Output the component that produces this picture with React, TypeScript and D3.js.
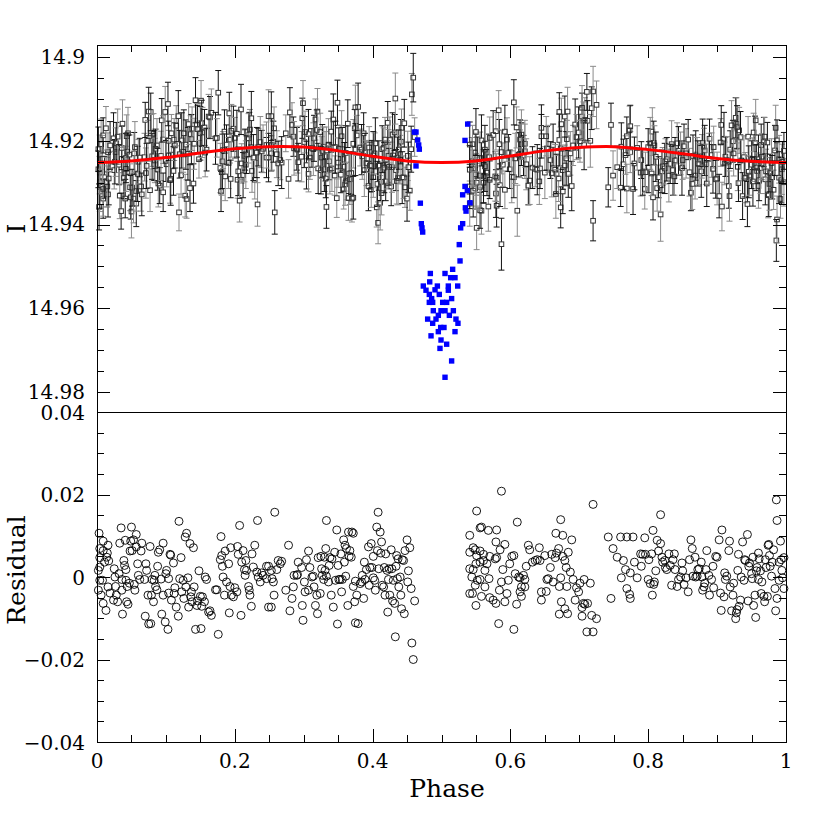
import React from 'react';
import * as d3 from 'd3';

// ---- observations outside eclipse (phase, I mag, residual, error) ----
const obsPhase = [
0.003,0.004,0.004,0.004,0.002,0.004,0.002,0.006,0.009,0.009,
0.011,0.008,0.009,0.014,0.016,0.015,0.017,0.016,0.019,0.013,
0.024,0.025,0.026,0.027,0.028,0.030,0.032,0.033,0.035,0.036,
0.036,0.037,0.039,0.040,0.041,0.042,0.042,0.043,0.044,0.045,
0.047,0.048,0.049,0.050,0.051,0.053,0.054,0.055,0.057,0.057,
0.059,0.060,0.062,0.064,0.065,0.069,0.070,0.071,0.072,0.074,
0.075,0.077,0.078,0.079,0.080,0.082,0.083,0.084,0.085,0.087,
0.088,0.089,0.091,0.093,0.094,0.096,0.096,0.099,0.100,0.101,
0.103,0.104,0.104,0.106,0.107,0.108,0.111,0.112,0.113,0.115,
0.118,0.119,0.120,0.122,0.123,0.125,0.126,0.128,0.129,0.130,
0.132,0.133,0.135,0.136,0.137,0.138,0.140,0.141,0.143,0.145,
0.146,0.148,0.150,0.151,0.152,0.153,0.156,0.157,0.159,0.162,
0.164,0.166,0.172,0.174,0.176,0.179,0.180,0.181,0.182,0.183,
0.185,0.186,0.188,0.191,0.192,0.193,0.194,0.195,0.198,0.200,
0.203,0.204,0.205,0.207,0.209,0.210,0.212,0.214,0.215,0.216,
0.217,0.220,0.221,0.222,0.224,0.225,0.227,0.229,0.232,0.233,
0.234,0.237,0.239,0.241,0.246,0.249,
0.258,0.278,0.249,0.246,0.253,0.254,0.256,0.261,0.263,0.266,
0.268,0.257,0.253,0.274,0.280,0.283,0.285,0.286,0.290,0.291,
0.292,0.297,0.298,0.299,0.301,0.302,0.304,0.307,0.307,0.309,
0.312,0.314,0.315,0.317,0.319,0.320,0.321,0.324,0.325,0.326,
0.327,0.329,0.330,0.331,0.332,0.333,0.333,0.336,0.337,0.338,
0.340,0.341,0.343,0.345,0.346,0.348,0.349,0.350,0.351,0.353,
0.354,0.355,0.356,0.358,0.359,0.360,0.361,0.362,0.364,0.365,
0.366,0.367,0.369,0.370,0.372,0.372,0.374,0.375,0.375,0.377,
0.379,0.382,0.384,0.385,0.387,0.388,0.389,0.391,0.394,0.395,
0.396,0.398,0.399,0.401,0.401,0.403,0.404,0.406,0.407,0.408,
0.409,0.411,0.412,0.413,0.414,0.416,0.417,0.418,0.419,0.421,
0.422,0.423,0.424,0.425,0.427,0.428,0.429,0.430,0.432,0.433,
0.434,0.435,0.436,0.437,0.438,0.440,0.441,0.442,0.443,0.445,
0.446,0.447,0.450,0.451,0.452,0.454,0.456,0.457,0.459,0.461,
0.587,0.551,0.720,0.558,0.556,0.568,0.580,0.610,0.673,0.541,
0.579,0.592,0.546,0.549,0.541,0.556,0.561,0.551,0.570,0.578,
0.585,0.580,0.561,0.556,0.566,0.550,0.541,0.546,0.563,0.589,
0.599,0.602,0.605,0.544,0.552,0.556,0.569,0.549,0.563,0.587,
0.597,0.607,0.612,0.614,0.619,0.621,0.616,0.621,0.614,0.616,
0.541,0.545,0.558,0.570,0.575,0.579,0.584,0.595,0.592,0.609,
0.550,0.583,0.605,0.623,0.626,0.628,0.632,0.636,0.639,0.642,
0.643,0.650,0.653,0.655,0.658,0.660,0.662,0.665,0.667,0.670,
0.671,0.673,0.676,0.666,0.676,0.679,0.681,0.682,0.684,0.687,
0.689,0.691,0.694,0.696,0.699,0.701,0.704,0.706,0.707,0.708,
0.712,0.716,0.718,0.725,0.711,0.720,0.645,0.652,0.645,0.674,
0.679,0.683,0.671,0.704,0.742,0.749,0.746,
0.818,0.986,0.987,0.760,0.769,0.778,0.795,0.807,0.755,0.764,
0.767,0.761,0.774,0.780,0.784,0.790,0.789,0.792,0.796,0.801,
0.805,0.769,0.773,0.774,0.806,0.800,0.803,0.808,0.809,0.811,
0.813,0.815,0.818,0.820,0.821,0.824,0.825,0.827,0.830,0.832,
0.834,0.836,0.838,0.839,0.842,0.844,0.847,0.849,0.850,0.852,
0.855,0.858,0.860,0.862,0.864,0.865,0.868,0.869,0.871,0.872,
0.874,0.877,0.878,0.879,0.881,0.882,0.884,0.885,0.888,0.889,
0.892,0.894,0.895,0.898,0.900,0.903,0.905,0.906,0.907,0.910,
0.911,0.912,0.914,0.917,0.918,0.919,0.921,0.923,0.924,0.927,
0.928,0.929,0.930,0.931,0.932,0.934,0.935,0.937,0.939,0.940,
0.941,0.944,0.945,0.946,0.947,0.950,0.951,0.952,0.953,0.955,
0.956,0.957,0.958,0.960,0.960,0.961,0.963,0.964,0.965,0.968,
0.969,0.970,0.971,0.973,0.974,0.975,0.976,0.977,0.979,0.980,
0.982,0.984,0.985,0.987,0.990,0.990,0.992,0.993,0.994,0.995,
0.997,0.997
];

const obsMag = [
14.9358,14.9321,14.9299,14.9276,14.9268,14.9244,14.9220,14.9208,14.9338,14.9315,
14.9287,14.9243,14.9187,14.9299,14.9328,14.9309,14.9290,14.9227,14.9211,14.9170,
14.9194,14.9270,14.9250,14.9227,14.9206,14.9190,14.9257,14.9331,14.9368,14.9243,
14.9217,14.9159,14.9289,14.9277,14.9338,14.9267,14.9241,14.9189,14.9226,14.9182,
14.9233,14.9311,14.9335,14.9369,14.9312,14.9338,14.9230,14.9215,14.9350,14.9320,
14.9279,14.9250,14.9240,14.9309,14.9328,14.9239,14.9150,14.9277,14.9260,14.9200,
14.9130,14.9318,14.9131,14.9199,14.9237,14.9183,14.9235,14.9247,14.9219,14.9211,
14.9268,14.9302,14.9307,14.9236,14.9151,14.9197,14.9323,14.9131,14.9248,14.9256,
14.9112,14.9235,14.9200,14.9294,14.9291,14.9182,14.9272,14.9197,14.9211,14.9164,
14.9141,14.9371,14.9232,14.9282,14.9199,14.9226,14.9182,14.9331,14.9209,14.9339,
14.9231,14.9160,14.9313,14.9184,14.9196,14.9171,14.9302,14.9207,14.9103,14.9161,
14.9172,14.9244,14.9182,14.9104,14.9158,14.9180,14.9168,14.9228,14.9221,14.9142,
14.9144,14.9133,14.9194,14.9193,14.9085,14.9265,14.9321,14.9275,14.9249,14.9222,
14.9178,14.9285,14.9209,14.9253,14.9134,14.9197,14.9291,14.9176,14.9171,14.9193,
14.9183,14.9293,14.9273,14.9343,14.9125,14.9254,14.9282,14.9236,14.9221,14.9257,
14.9233,14.9194,14.9185,14.9173,14.9146,14.9272,14.9240,14.9293,14.9228,14.9352,
14.9215,14.9203,14.9225,14.9219,14.9240,14.9141,
14.9371,14.9291,14.9240,14.9210,14.9230,14.9210,14.9202,14.9232,14.9254,14.9246,
14.9252,14.9170,14.9141,14.9182,14.9132,14.9162,14.9190,14.9218,14.9219,14.9221,
14.9251,14.9238,14.9146,14.9110,14.9203,14.9179,14.9258,14.9279,14.9184,14.9240,
14.9217,14.9220,14.9194,14.9149,14.9174,14.9130,14.9266,14.9179,14.9270,14.9240,
14.9224,14.9214,14.9268,14.9237,14.9290,14.9223,14.9358,14.9209,14.9249,14.9269,
14.9178,14.9266,14.9149,14.9283,14.9215,14.9337,14.9109,14.9252,14.9218,14.9219,
14.9281,14.9189,14.9220,14.9316,14.9262,14.9304,14.9229,14.9296,14.9159,14.9337,
14.9278,14.9292,14.9277,14.9338,14.9336,14.9207,14.9170,14.9120,14.9221,14.9187,
14.9119,14.9216,14.9221,14.9237,14.9182,14.9270,14.9228,14.9253,14.9308,14.9216,
14.9259,14.9317,14.9260,14.9287,14.9235,14.9230,14.9206,14.9359,14.9303,14.9396,
14.9259,14.9348,14.9298,14.9325,14.9220,14.9217,14.9264,14.9197,14.9297,14.9257,
14.9157,14.9236,14.9262,14.9198,14.9309,14.9263,14.9185,14.9235,14.9180,14.9099,
14.9270,14.9296,14.9241,14.9289,14.9221,14.9245,14.9202,14.9169,14.9288,14.9287,
14.9158,14.9311,14.9338,14.9236,14.9263,14.9319,14.9220,14.9089,14.9049,14.9191,
14.9447,14.9408,14.9391,14.9367,14.9366,14.9357,14.9355,14.9367,14.9359,14.9350,
14.9326,14.9317,14.9319,14.9314,14.9309,14.9310,14.9300,14.9300,14.9293,14.9285,
14.9306,14.9288,14.9285,14.9283,14.9276,14.9280,14.9269,14.9266,14.9261,14.9257,
14.9268,14.9286,14.9287,14.9249,14.9240,14.9241,14.9239,14.9228,14.9221,14.9227,
14.9229,14.9242,14.9233,14.9231,14.9235,14.9225,14.9208,14.9207,14.9197,14.9185,
14.9209,14.9208,14.9199,14.9193,14.9186,14.9177,14.9208,14.9197,14.9178,14.9168,
14.9179,14.9127,14.9108,14.9256,14.9307,14.9295,14.9264,14.9267,14.9269,14.9297,
14.9266,14.9276,14.9218,14.9219,14.9246,14.9277,14.9210,14.9269,14.9279,14.9290,
14.9198,14.9218,14.9270,14.9327,14.9321,14.9259,14.9242,14.9196,14.9279,14.9230,
14.9308,14.9211,14.9161,14.9191,14.9180,14.9201,14.9142,14.9152,14.9210,14.9150,
14.9152,14.9200,14.9122,14.9114,14.9083,14.9082,14.9189,14.9189,14.9169,14.9160,
14.9142,14.9130,14.9131,14.9121,14.9311,14.9283,14.9162,
14.9376,14.9438,14.9388,14.9312,14.9314,14.9315,14.9315,14.9335,14.9263,14.9256,
14.9234,14.9214,14.9227,14.9254,14.9217,14.9246,14.9276,14.9275,14.9275,14.9263,
14.9278,14.9189,14.9175,14.9165,14.9178,14.9215,14.9206,14.9205,14.9211,14.9238,
14.9313,14.9287,14.9306,14.9273,14.9261,14.9266,14.9249,14.9244,14.9283,14.9255,
14.9208,14.9270,14.9285,14.9247,14.9206,14.9224,14.9230,14.9265,14.9246,14.9213,
14.9230,14.9197,14.9275,14.9324,14.9303,14.9236,14.9283,14.9235,14.9238,14.9254,
14.9256,14.9273,14.9237,14.9205,14.9214,14.9223,14.9256,14.9302,14.9243,14.9195,
14.9234,14.9267,14.9215,14.9292,14.9290,14.9332,14.9204,14.9162,14.9357,14.9195,
14.9254,14.9238,14.9246,14.9308,14.9332,14.9221,14.9163,14.9201,14.9230,14.9145,
14.9159,14.9167,14.9262,14.9301,14.9175,14.9191,14.9247,14.9332,14.9239,14.9289,
14.9288,14.9351,14.9190,14.9274,14.9283,14.9257,14.9245,14.9297,14.9180,14.9205,
14.9151,14.9264,14.9272,14.9244,14.9308,14.9294,14.9265,14.9210,14.9238,14.9203,
14.9190,14.9292,14.9273,14.9204,14.9328,14.9330,14.9303,14.9277,14.9253,14.9287,
14.9317,14.9223,14.9169,14.9199,14.9244,14.9288,14.9339,14.9294,14.9268,14.9250,
14.9299,14.9224
];

const obsResid = [
0.0106,0.0069,0.0047,0.0024,0.0016,-0.0008,-0.0032,-0.0044,0.0087,0.0064,
0.0036,-0.0008,-0.0064,0.0048,0.0077,0.0058,0.0039,-0.0024,-0.0039,-0.0081,
-0.0056,0.0020,0.0000,-0.0023,-0.0044,-0.0060,0.0008,0.0082,0.0119,-0.0006,
-0.0032,-0.0090,0.0040,0.0028,0.0089,0.0018,-0.0008,-0.0060,-0.0023,-0.0066,
-0.0015,0.0063,0.0087,0.0121,0.0064,0.0090,-0.0018,-0.0032,0.0103,0.0073,
0.0032,0.0004,-0.0006,0.0063,0.0082,-0.0006,-0.0095,0.0032,0.0016,-0.0044,
-0.0114,0.0074,-0.0113,-0.0044,-0.0006,-0.0060,-0.0008,0.0004,-0.0023,-0.0031,
0.0026,0.0060,0.0066,-0.0005,-0.0090,-0.0044,0.0082,-0.0109,0.0008,0.0016,
-0.0127,-0.0004,-0.0039,0.0055,0.0053,-0.0056,0.0034,-0.0040,-0.0026,-0.0073,
-0.0095,0.0135,-0.0004,0.0047,-0.0036,-0.0008,-0.0052,0.0097,-0.0024,0.0106,
-0.0002,-0.0073,0.0081,-0.0048,-0.0036,-0.0060,0.0071,-0.0024,-0.0127,-0.0069,
-0.0058,0.0015,-0.0047,-0.0125,-0.0071,-0.0048,-0.0060,0.0000,-0.0006,-0.0085,
-0.0082,-0.0093,-0.0031,-0.0031,-0.0139,0.0042,0.0098,0.0052,0.0026,0.0000,
-0.0044,0.0063,-0.0012,0.0032,-0.0087,-0.0023,0.0071,-0.0044,-0.0048,-0.0026,
-0.0036,0.0074,0.0055,0.0125,-0.0093,0.0036,0.0064,0.0018,0.0004,0.0040,
0.0016,-0.0023,-0.0032,-0.0044,-0.0071,0.0056,0.0024,0.0077,0.0012,0.0137,
0.0000,-0.0012,0.0010,0.0004,0.0026,-0.0073,
0.0157,0.0077,0.0026,-0.0004,0.0016,-0.0004,-0.0012,0.0018,0.0040,0.0032,
0.0038,-0.0044,-0.0073,-0.0032,-0.0082,-0.0052,-0.0024,0.0004,0.0004,0.0006,
0.0036,0.0023,-0.0069,-0.0105,-0.0012,-0.0036,0.0042,0.0063,-0.0032,0.0023,
0.0000,0.0002,-0.0024,-0.0069,-0.0044,-0.0089,0.0047,-0.0040,0.0050,0.0020,
0.0004,-0.0006,0.0048,0.0016,0.0069,0.0002,0.0137,-0.0012,0.0028,0.0047,
-0.0044,0.0044,-0.0073,0.0060,-0.0008,0.0114,-0.0114,0.0028,-0.0006,-0.0006,
0.0056,-0.0036,-0.0006,0.0090,0.0036,0.0077,0.0002,0.0069,-0.0069,0.0109,
0.0050,0.0064,0.0048,0.0109,0.0106,-0.0023,-0.0060,-0.0111,-0.0010,-0.0044,
-0.0113,-0.0016,-0.0012,0.0004,-0.0052,0.0036,-0.0006,0.0018,0.0073,-0.0020,
0.0023,0.0081,0.0023,0.0050,-0.0002,-0.0008,-0.0032,0.0121,0.0064,0.0157,
0.0020,0.0109,0.0058,0.0085,-0.0020,-0.0024,0.0023,-0.0044,0.0056,0.0016,
-0.0085,-0.0006,0.0020,-0.0044,0.0066,0.0020,-0.0058,-0.0008,-0.0064,-0.0145,
0.0026,0.0052,-0.0004,0.0044,-0.0024,0.0000,-0.0044,-0.0077,0.0042,0.0040,
-0.0089,0.0064,0.0090,-0.0012,0.0015,0.0071,-0.0028,-0.0160,-0.0200,-0.0058,
0.0208,0.0160,0.0176,0.0121,0.0119,0.0113,0.0114,0.0133,0.0139,0.0101,
0.0085,0.0079,0.0071,0.0066,0.0060,0.0063,0.0055,0.0052,0.0050,0.0044,
0.0066,0.0047,0.0040,0.0036,0.0032,0.0032,0.0020,0.0018,0.0016,0.0018,
0.0032,0.0050,0.0052,0.0000,-0.0008,-0.0006,-0.0004,-0.0020,-0.0024,-0.0012,
-0.0008,0.0008,0.0000,-0.0002,0.0004,-0.0006,-0.0024,-0.0024,-0.0036,-0.0047,
-0.0040,-0.0040,-0.0047,-0.0050,-0.0056,-0.0064,-0.0032,-0.0040,-0.0060,-0.0066,
-0.0069,-0.0113,-0.0127,0.0026,0.0077,0.0066,0.0036,0.0040,0.0042,0.0071,
0.0040,0.0052,-0.0006,-0.0004,0.0023,0.0055,-0.0012,0.0047,0.0058,0.0069,
-0.0023,-0.0002,0.0050,0.0106,0.0101,0.0040,0.0023,-0.0023,0.0060,0.0012,
0.0090,-0.0006,-0.0056,-0.0026,-0.0036,-0.0015,-0.0074,-0.0064,-0.0006,-0.0066,
-0.0064,-0.0015,-0.0093,-0.0101,-0.0133,-0.0133,-0.0036,-0.0035,-0.0056,-0.0060,
-0.0077,-0.0089,-0.0090,-0.0095,0.0097,0.0069,-0.0052,
0.0151,0.0187,0.0137,0.0097,0.0097,0.0097,0.0095,0.0113,0.0048,0.0040,
0.0018,-0.0002,0.0010,0.0036,-0.0002,0.0026,0.0056,0.0055,0.0055,0.0042,
0.0056,-0.0028,-0.0042,-0.0052,-0.0044,-0.0006,-0.0016,-0.0018,-0.0012,0.0015,
0.0089,0.0063,0.0081,0.0048,0.0036,0.0040,0.0023,0.0018,0.0056,0.0028,
-0.0020,0.0042,0.0056,0.0018,-0.0023,-0.0006,0.0000,0.0034,0.0015,-0.0018,
-0.0002,-0.0036,0.0042,0.0090,0.0069,0.0002,0.0048,0.0000,0.0002,0.0018,
0.0020,0.0036,0.0000,-0.0032,-0.0024,-0.0015,0.0018,0.0064,0.0004,-0.0044,
-0.0006,0.0026,-0.0026,0.0050,0.0048,0.0090,-0.0039,-0.0081,0.0114,-0.0048,
0.0010,-0.0006,0.0002,0.0064,0.0087,-0.0024,-0.0082,-0.0044,-0.0015,-0.0101,
-0.0087,-0.0079,0.0016,0.0055,-0.0071,-0.0056,0.0000,0.0085,-0.0008,0.0042,
0.0040,0.0103,-0.0058,0.0026,0.0034,0.0008,-0.0004,0.0048,-0.0069,-0.0044,
-0.0098,0.0015,0.0023,-0.0006,0.0058,0.0044,0.0015,-0.0040,-0.0012,-0.0047,
-0.0060,0.0042,0.0023,-0.0047,0.0077,0.0079,0.0052,0.0026,0.0002,0.0036,
0.0066,-0.0028,-0.0082,-0.0052,-0.0008,0.0036,0.0087,0.0042,0.0016,-0.0002,
0.0047,-0.0028
];

const obsErr = [
0.0055,0.0048,0.0062,0.0051,0.0044,0.0058,0.0053,0.0060,0.0047,0.0065,0.0050,0.0056,0.0042,0.0059,0.0054,0.0049,0.0063,0.0046,0.0057,0.0052,
0.0061,0.0045,0.0053,0.0058,0.0050,0.0066,0.0048,0.0055,0.0043,0.0060,0.0052,0.0057,0.0049,0.0064,0.0046,0.0054,0.0059,0.0051,0.0045,0.0062,
0.0047,0.0056,0.0052,0.0063,0.0044,0.0058,0.0050,0.0061,0.0055,0.0048,0.0066,0.0053,0.0046,0.0059,0.0051,0.0057,0.0042,0.0060,0.0054,0.0049,
0.0058,0.0051,0.0045,0.0062,0.0055,0.0048,0.0060,0.0053,0.0047,0.0064,0.0050,0.0056,0.0043,0.0059,0.0052,0.0057,0.0046,0.0061,0.0049,0.0054,
0.0052,0.0060,0.0047,0.0055,0.0063,0.0045,0.0058,0.0050,0.0054,0.0048,0.0061,0.0044,0.0057,0.0053,0.0066,0.0049,0.0056,0.0051,0.0059,0.0046,
0.0063,0.0049,0.0056,0.0044,0.0059,0.0052,0.0047,0.0061,0.0054,0.0050,0.0057,0.0045,0.0064,0.0048,0.0055,0.0060,0.0043,0.0058,0.0051,0.0053,
0.0050,0.0057,0.0062,0.0046,0.0053,0.0059,0.0048,0.0055,0.0065,0.0044,0.0052,0.0058,0.0047,0.0061,0.0050,0.0056,0.0045,0.0063,0.0054,0.0049,
0.0056,0.0044,0.0058,0.0051,0.0060,0.0047,0.0054,0.0062,0.0049,0.0057,0.0045,0.0059,0.0053,0.0048,0.0064,0.0051,0.0055,0.0046,0.0060,0.0052,
0.0045,0.0061,0.0050,0.0057,0.0048,0.0063,0.0052,0.0046,0.0058,0.0055,0.0042,0.0060,0.0049,0.0056,0.0053,0.0047,0.0062,0.0051,0.0058,0.0044,
0.0059,0.0053,0.0047,0.0064,0.0051,0.0056,0.0045,0.0060,0.0048,0.0054,0.0061,0.0050,0.0057,0.0043,0.0059,0.0052,0.0046,0.0063,0.0055,0.0049,
0.0048,0.0055,0.0060,0.0045,0.0057,0.0050,0.0063,0.0047,0.0053,0.0059,0.0046,0.0056,0.0051,0.0062,0.0044,0.0058,0.0049,0.0055,0.0061,0.0047,
0.0062,0.0046,0.0054,0.0059,0.0049,0.0056,0.0043,0.0061,0.0052,0.0047,0.0058,0.0050,0.0065,0.0045,0.0057,0.0053,0.0048,0.0060,0.0051,0.0056,
0.0051,0.0058,0.0045,0.0053,0.0062,0.0048,0.0057,0.0044,0.0060,0.0055,0.0049,0.0063,0.0046,0.0054,0.0059,0.0050,0.0056,0.0042,0.0061,0.0048,
0.0057,0.0049,0.0061,0.0047,0.0054,0.0050,0.0059,0.0065,0.0045,0.0052,0.0056,0.0048,0.0060,0.0053,0.0046,0.0058,0.0051,0.0063,0.0044,0.0055,
0.0046,0.0060,0.0052,0.0057,0.0043,0.0061,0.0049,0.0055,0.0050,0.0064,0.0047,0.0058,0.0053,0.0045,0.0062,0.0051,0.0057,0.0048,0.0054,0.0059,
0.0060,0.0047,0.0055,0.0050,0.0058,0.0046,0.0062,0.0052,0.0048,0.0056,0.0043,0.0059,0.0051,0.0061,0.0049,0.0054,0.0057,0.0045,0.0063,0.0050,
0.0053,0.0056,0.0048,0.0061,0.0045,0.0059,0.0051,0.0057,0.0064,0.0047,0.0055,0.0050,0.0058,0.0044,0.0060,0.0052,0.0046,0.0062,0.0049,0.0057,
0.0049,0.0062,0.0055,0.0046,0.0058,0.0052,0.0044,0.0060,0.0053,0.0057,0.0048,0.0065,0.0051,0.0056,0.0047,0.0059,0.0054,0.0045,0.0061,0.0050,
0.0058,0.0045,0.0059,0.0052,0.0063,0.0049,0.0056,0.0047,0.0054,0.0061,0.0046,0.0057,0.0050,0.0043,0.0060,0.0055,0.0048,0.0062,0.0052,0.0056,
0.0044,0.0057,0.0050,0.0060,0.0047,0.0055,0.0062,0.0051,0.0046,0.0058,0.0053,0.0049,0.0064,0.0045,0.0056,0.0052,0.0059,0.0048,0.0061,0.0054,
0.0061,0.0050,0.0056,0.0045,0.0059,0.0053,0.0048,0.0063,0.0051,0.0057,0.0044,0.0060,0.0052,0.0047,0.0055,0.0062,0.0049,0.0058,0.0046,0.0053,
0.0047,0.0059,0.0052,0.0064,0.0050,0.0056,0.0045,0.0058,0.0061,0.0048,0.0054,0.0051,0.0060,0.0046,0.0057,0.0049,0.0063,0.0053,0.0044,0.0056,
0.0055,0.0048,0.0061,0.0053,0.0046,0.0058,0.0050,0.0057,0.0044,0.0062,0.0052,0.0047,0.0059,0.0055,0.0049,0.0064,0.0051,0.0045,0.0060,0.0054,
0.0052,0.0063,0.0047,0.0056,0.0060,0.0045,0.0055,0.0049,0.0058,0.0051,0.0065,0.0046,0.0053,0.0059,0.0048,0.0057,0.0043,0.0061,0.0050,0.0056,
0.0059,0.0046,0.0054,0.0049,0.0062,0.0052,0.0057,0.0044,0.0060,0.0048,0.0055,0.0061,0.0047,0.0053,0.0058,0.0050,0.0045,0.0063,0.0052,0.0057,
0.0046,0.0058,0.0063,0.0051,0.0047,0.0056,0.0053,0.0060,0.0045,0.0059,0.0050,0.0054,0.0048,0.0062,0.0051,0.0057,0.0044,0.0055,0.0061,0.0049,
0.0056,0.0051,0.0045,0.0060,0.0054,0.0048,0.0062,0.0047,0.0057,0.0052,0.0059,0.0046,0.0064,0.0050,0.0055,0.0043,0.0058,0.0053,0.0049,0.0061,
0.0050,0.0055,0.0059,0.0046,0.0061,0.0053,0.0048,0.0056,0.0051,0.0063,0.0045,0.0058,0.0052,0.0047,0.0060,0.0054,0.0049,0.0057,0.0062,0.0046,
0.0054,0.0060,0.0048,0.0057,0.0044
];

// ---- eclipse points (blue) ----
const eclPhase = [
0.463,0.4606,0.4654,0.4669,0.4678,0.463,0.4693,0.4707,0.4717,0.4727,
0.538,0.5341,0.5341,0.5375,0.5307,0.5414,0.5346,0.5356,0.5307,0.5278,0.5258,0.5269,0.5162,0.5133,0.5196,0.5235,
0.4838,0.5051,0.4829,0.4736,0.4775,0.4940,0.4906,0.5099,0.5099,0.4823,0.4968,0.4857,0.5147,0.5075,0.4823,0.4872,0.5017,0.4881,0.4993,0.5172,0.5051,0.4954,0.5114,0.4799,0.4920,0.5210,0.4872,0.5239,0.4988,0.5036,0.4954,0.5196,0.4848,0.4993,0.5075,0.4978,0.5147,0.5051
];
const eclMag = [
14.9179,14.9179,14.9198,14.9210,14.9220,14.9260,14.9349,14.9398,14.9408,14.9418,
14.9160,14.9199,14.9309,14.9319,14.9329,14.9348,14.9360,14.9368,14.9398,14.9408,14.9448,14.9487,14.9507,14.9527,14.9527,14.9547,
14.9517,14.9517,14.9537,14.9547,14.9557,14.9547,14.9556,14.9547,14.9557,14.9567,14.9567,14.9577,14.9577,14.9586,14.9586,14.9586,14.9586,14.9606,14.9606,14.9606,14.9606,14.9617,14.9617,14.9626,14.9626,14.9626,14.9636,14.9636,14.9646,14.9646,14.9656,14.9656,14.9666,14.9676,14.9686,14.9696,14.9726,14.9765
];

// ---- model curve ----
const modelPhase = [0,0.05,0.1,0.15,0.2,0.25,0.3,0.35,0.4,0.45,0.5,0.55,0.6,0.65,0.7,0.75,0.8,0.85,0.9,0.95,1];
const modelMag = [14.9252,14.9248,14.9240,14.9229,14.9219,14.9214,14.9215,14.9224,14.9237,14.9248,14.9252,14.9248,14.9236,14.9224,14.9216,14.9214,14.9221,14.9231,14.9242,14.9249,14.9252];

// ---- ticks ----
const xMajorTicks = [0, 0.2, 0.4, 0.6, 0.8, 1];
const xTickLabels = ['0', '0.2', '0.4', '0.6', '0.8', '1'];
const magMajorTicks = [14.9, 14.92, 14.94, 14.96, 14.98];
const magTickLabels = ['14.9', '14.92', '14.94', '14.96', '14.98'];
const resMajorTicks = [0.04, 0.02, 0, -0.02, -0.04];
const resTickLabels = ['0.04', '0.02', '0', '\u22120.02', '\u22120.04'];

const L = 97, R = 786, T = 45, MID = 412, B = 742;
const MAJ = 13, MIN = 7;
const tickFont = "'DejaVu Serif', serif";

export default function App() {
  const x = d3.scaleLinear().domain([0, 1]).range([L, R]);
  const yMag = d3.scaleLinear().domain([14.8971, 14.9848]).range([T, MID]);
  const yRes = d3.scaleLinear().domain([-0.04, 0.04]).range([B, MID]);

  const xMinor = x.ticks(20);
  const magMinor = d3.range(0, 15).map(i => 14.905 + i * 0.005).filter(v => v < 14.978 || v > 14.982);
  const resMinor = d3.range(0, 17).map(i => -0.04 + i * 0.005);

  const modelLine = d3.line<number>()
    .x((_, i) => x(modelPhase[i]))
    .y(d => yMag(d))
    .curve(d3.curveCatmullRom.alpha(0.5));

  const tickLines: JSX.Element[] = [];
  xMinor.forEach((v, i) => {
    const major = xMajorTicks.some(m => Math.abs(m - v) < 1e-9);
    const len = major ? MAJ : MIN;
    const xx = Math.round(x(v)) + 0.5;
    tickLines.push(<line key={'xt' + i} x1={xx} x2={xx} y1={T} y2={T + len} />);
    tickLines.push(<line key={'xb' + i} x1={xx} x2={xx} y1={B} y2={B - len} />);
  });
  magMajorTicks.forEach((v, i) => {
    const yy = Math.round(yMag(v)) + 0.5;
    tickLines.push(<line key={'mM' + i} x1={L} x2={L + MAJ} y1={yy} y2={yy} />);
    tickLines.push(<line key={'mMr' + i} x1={R} x2={R - MAJ} y1={yy} y2={yy} />);
  });
  magMinor.forEach((v, i) => {
    if (magMajorTicks.some(m => Math.abs(m - v) < 1e-6)) return;
    const yy = Math.round(yMag(v)) + 0.5;
    tickLines.push(<line key={'mm' + i} x1={L} x2={L + MIN} y1={yy} y2={yy} />);
    tickLines.push(<line key={'mmr' + i} x1={R} x2={R - MIN} y1={yy} y2={yy} />);
  });
  resMinor.forEach((v, i) => {
    if (Math.abs(v - 0.04) < 1e-9 || Math.abs(v + 0.04) < 1e-9) return;
    const major = resMajorTicks.some(m => Math.abs(m - v) < 1e-9);
    const len = major ? MAJ : MIN;
    const yy = Math.round(yRes(v)) + 0.5;
    tickLines.push(<line key={'r' + i} x1={L} x2={L + len} y1={yy} y2={yy} />);
    tickLines.push(<line key={'rr' + i} x1={R} x2={R - len} y1={yy} y2={yy} />);
  });

  return (
    <svg width={830} height={830} viewBox="0 0 830 830"
      style={{ position: 'absolute', left: 0, top: 0, background: '#fff' }}>
      <rect x={0} y={0} width={830} height={830} fill="#fff" />

      {/* error bars + open squares */}
      <g>
        {obsPhase.map((p, i) => {
          const cx = x(p);
          const cy = yMag(obsMag[i]);
          const y1 = yMag(obsMag[i] - obsErr[i]);
          const y2 = yMag(obsMag[i] + obsErr[i]);
          const col = i % 2 === 0 ? '#111' : '#8a8a8a';
          return (
            <g key={'e' + i} stroke={col} strokeWidth={1} fill="none">
              <line x1={cx} x2={cx} y1={y1} y2={cy - 2.3} />
              <line x1={cx} x2={cx} y1={cy + 2.3} y2={y2} />
              <line x1={cx - 3} x2={cx + 3} y1={y1} y2={y1} />
              <line x1={cx - 3} x2={cx + 3} y1={y2} y2={y2} />
              <rect x={cx - 2.3} y={cy - 2.3} width={4.6} height={4.6} stroke="#333" />
            </g>
          );
        })}
      </g>

      {/* model */}
      <path d={modelLine(modelMag) || ''} fill="none" stroke="#ff0000" strokeWidth={3} />

      {/* eclipse points */}
      <g fill="#0000ff">
        {eclPhase.map((p, i) => (
          <rect key={'b' + i} x={x(p) - 2.7} y={yMag(eclMag[i]) - 2.7} width={5.4} height={5.4} />
        ))}
      </g>

      {/* residuals */}
      <g fill="none" stroke="#000" strokeWidth={0.9}>
        {obsPhase.map((p, i) => (
          <circle key={'c' + i} cx={x(p)} cy={yRes(obsResid[i])} r={4} />
        ))}
      </g>

      {/* frame */}
      <g stroke="#000" strokeWidth={1} fill="none" shapeRendering="crispEdges">
        <rect x={L + 0.5} y={T + 0.5} width={R - L} height={B - T} />
        <line x1={L} x2={R} y1={MID + 0.5} y2={MID + 0.5} />
        {tickLines}
      </g>

      {/* tick labels */}
      <g fontFamily={tickFont} fontSize={20} fill="#000">
        {magMajorTicks.map((v, i) => (
          <text key={'ml' + i} x={L - 12} y={yMag(v)} dy="0.34em" textAnchor="end">{magTickLabels[i]}</text>
        ))}
        {resMajorTicks.map((v, i) => (
          <text key={'rl' + i} x={L - 12} y={yRes(v)} dy="0.38em" textAnchor="end">{resTickLabels[i]}</text>
        ))}
        {xMajorTicks.map((v, i) => (
          <text key={'xl' + i} x={x(v)} y={768} textAnchor="middle">{xTickLabels[i]}</text>
        ))}
      </g>

      {/* axis titles */}
      <g fontFamily={tickFont} fontSize={25} fill="#000">
        <text x={447} y={797} textAnchor="middle">Phase</text>
        <text transform={`translate(25,${(T + MID) / 2}) rotate(-90)`} textAnchor="middle">I</text>
        <text transform={`translate(25,570) rotate(-90)`} textAnchor="middle">Residual</text>
      </g>
    </svg>
  );
}
